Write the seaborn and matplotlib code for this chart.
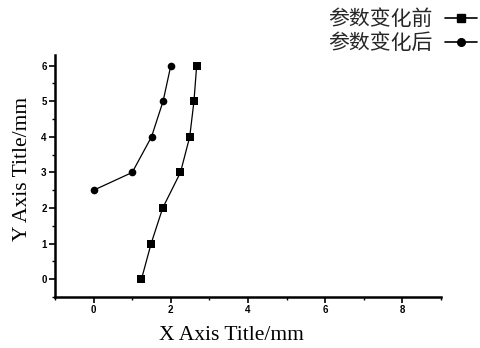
import matplotlib
matplotlib.use("Agg")
import matplotlib.pyplot as plt
import seaborn as sns
import pandas as pd
from matplotlib.ticker import MultipleLocator
from matplotlib.lines import Line2D

# Measured profiles: x position (mm) at each height (mm)
before_x = [1.24, 1.49, 1.79, 2.25, 2.49, 2.60, 2.67]
before_y = [0, 1, 2, 3, 4, 5, 6]
after_x = [0.0, 1.0, 1.5, 1.8, 2.0]
after_y = [2.5, 3, 4, 5, 6]
series_names = ["参数变化前", "参数变化后"]
x_ticks = [0, 2, 4, 6, 8]
y_ticks = [0, 1, 2, 3, 4, 5, 6]

df = pd.concat([
    pd.DataFrame({"x": before_x, "y": before_y, "s": series_names[0]}),
    pd.DataFrame({"x": after_x, "y": after_y, "s": series_names[1]}),
], ignore_index=True)

sns.set_theme(style="white")
plt.rcParams["font.family"] = ["Noto Sans CJK SC", "DejaVu Sans"]

fig = plt.figure(figsize=(4.81, 3.48), dpi=100)
ax = fig.add_axes([55 / 481, 51 / 348, 386 / 481, 242 / 348])

sns.lineplot(data=df, x="x", y="y", hue="s", style="s", sort=False,
             estimator=None, markers={series_names[0]: "s", series_names[1]: "o"},
             dashes=False, palette=["black", "black"], linewidth=0.9,
             markersize=5.5, markeredgewidth=0, ax=ax, legend=False)

ax.set_xlim(-1, 9)
ax.set_ylim(-0.5, 6.3)
ax.set_xticks(x_ticks)
ax.set_yticks(y_ticks)
ax.xaxis.set_minor_locator(MultipleLocator(1))
ax.yaxis.set_minor_locator(MultipleLocator(0.5))
ax.tick_params(which="major", direction="out", length=4, width=1.2,
               bottom=True, left=True, color="black", pad=2)
ax.tick_params(which="minor", direction="out", length=2.5, width=1.0,
               bottom=True, left=True, color="black")
for lab in ax.get_xticklabels() + ax.get_yticklabels():
    lab.set_fontfamily("Liberation Sans")
    lab.set_fontweight("bold")
    lab.set_fontsize(7)
    lab.set_color("black")

for side in ["top", "right"]:
    ax.spines[side].set_visible(False)
for side in ["left", "bottom"]:
    ax.spines[side].set_color("black")
    ax.spines[side].set_linewidth(1.8)

ax.set_xlabel("X Axis Title/mm", fontfamily="Liberation Serif", fontsize=15.5,
              color="black")
ax.set_ylabel("Y Axis Title/mm", fontfamily="Liberation Serif", fontsize=15.5,
              color="black")
ax.xaxis.set_label_coords(0.456, -0.12)
ax.yaxis.set_label_coords(-0.06, 0.53)

handles = [
    Line2D([], [], color="black", linewidth=1.2, marker="s", markersize=5.5),
    Line2D([], [], color="black", linewidth=1.2, marker="o", markersize=5.5),
]
fig.legend(handles, series_names, loc="upper right", bbox_to_anchor=(1.03, 1.03),
           frameon=False, markerfirst=False, handlelength=1.5, handletextpad=0.6,
           labelspacing=0.1, prop={"family": "Noto Sans CJK SC", "size": 15})

fig.savefig("out.png", dpi=100)
